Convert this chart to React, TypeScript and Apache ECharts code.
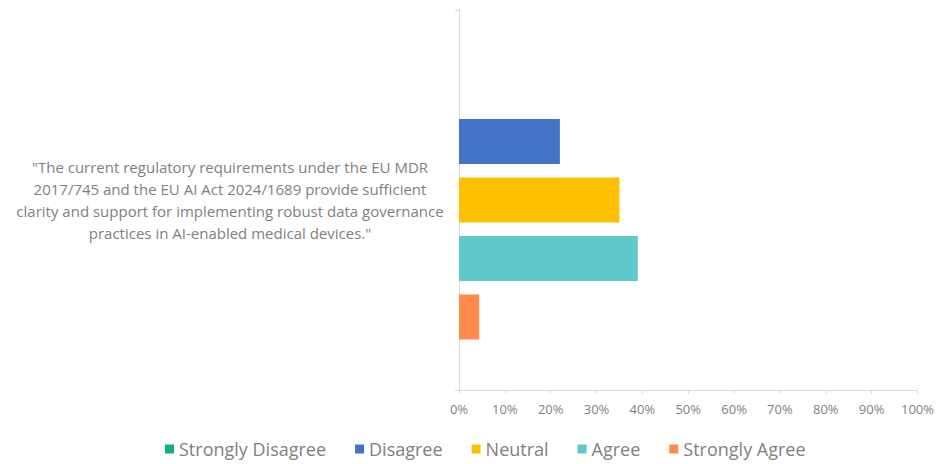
import React, { useEffect, useRef } from "react";
import * as echarts from "echarts";

const categories = [
  '"The current regulatory requirements under the EU MDR\n2017/745 and the EU AI Act 2024/1689 provide sufficient\nclarity and support for implementing robust data governance\npractices in AI-enabled medical devices."',
];
const seriesNames = ["Strongly Disagree", "Disagree", "Neutral", "Agree", "Strongly Agree"];
const seriesValues = [[0], [22], [35], [39], [4.4]];
const seriesColors = ["#12B07E", "#4472C4", "#FFC000", "#5EC8CB", "#FF8A4C"];
const xTicks = [0, 10, 20, 30, 40, 50, 60, 70, 80, 90, 100];

export default function App() {
  const ref = useRef<HTMLDivElement>(null);
  useEffect(() => {
    if (!ref.current) return;
    const chart = echarts.init(ref.current, null, { renderer: "svg" });
    const font = "'Open Sans', 'Noto Sans', sans-serif";
    chart.setOption({
      animation: false,
      textStyle: { fontFamily: font },
      grid: { left: 451, right: 19, top: 2, bottom: 74, containLabel: false },
      legend: {
        top: 427,
        left: 152,
        itemWidth: 9,
        itemHeight: 9,
        itemGap: 29,
        icon: "rect",
        textStyle: { color: "#7f7f7f", fontSize: 18, fontFamily: font },
        data: seriesNames,
      },
      xAxis: {
        type: "value",
        min: xTicks[0],
        max: xTicks[xTicks.length - 1],
        interval: 10,
        axisLine: { show: true, lineStyle: { color: "#d9d9d9" } },
        axisTick: { show: true, length: 4, lineStyle: { color: "#d9d9d9" } },
        splitLine: { show: false },
        axisLabel: {
          color: "#7f7f7f",
          fontSize: 13,
          margin: 12,
          formatter: (v: number) => v + "%",
        },
      },
      yAxis: {
        type: "category",
        inverse: true,
        data: categories,
        axisLine: { show: true, lineStyle: { color: "#d9d9d9" } },
        axisTick: { show: true, length: 4, lineStyle: { color: "#d9d9d9" } },
        axisLabel: {
          color: "#7f7f7f",
          fontSize: 15,
          lineHeight: 22,
          align: "center",
          margin: 229,
          padding: [0, 0, 2, 0],
        },
      },
      series: seriesNames.map((name, i) => ({
        name,
        type: "bar",
        data: seriesValues[i],
        barWidth: 45,
        barGap: "30%",
        itemStyle: { color: seriesColors[i] },
      })),
    });
    return () => chart.dispose();
  }, []);
  return <div ref={ref} style={{ width: 929, height: 456 }} />;
}
